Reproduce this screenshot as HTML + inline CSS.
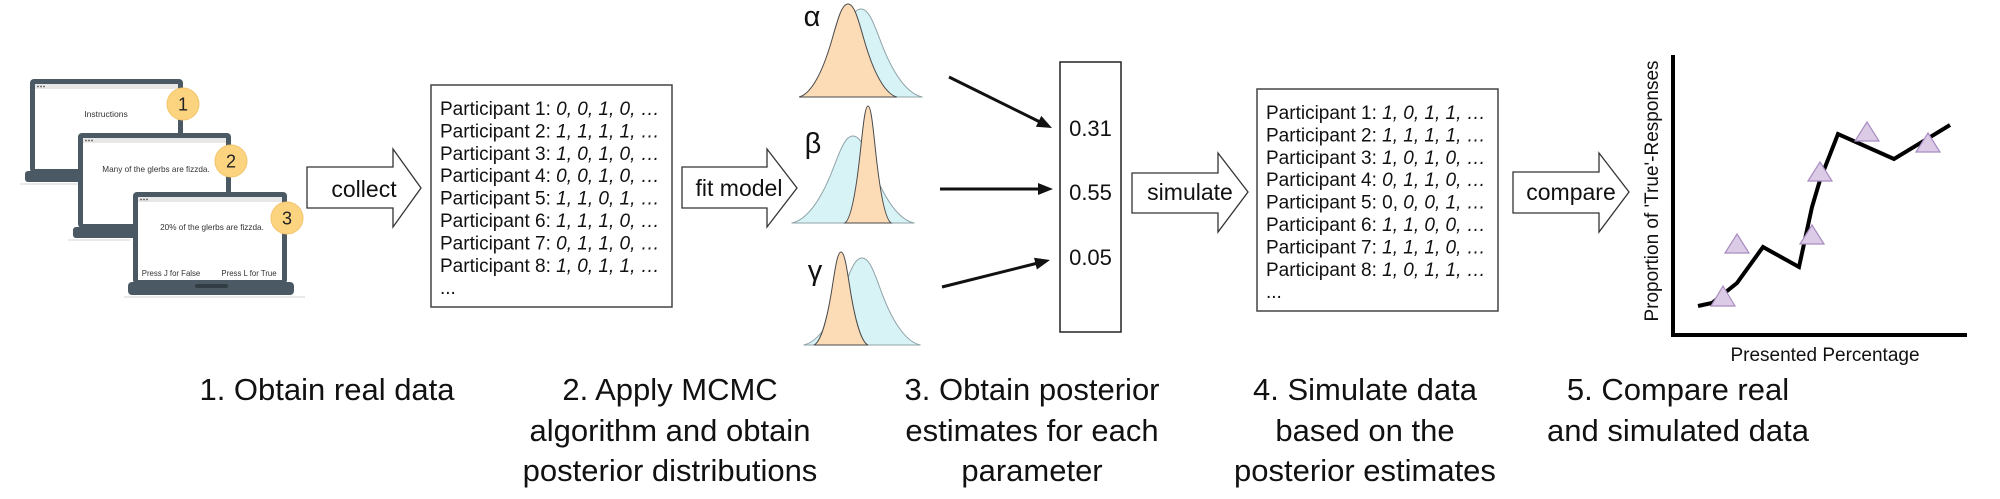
<!DOCTYPE html>
<html>
<head>
<meta charset="utf-8">
<style>
  html, body { margin: 0; padding: 0; background: #ffffff; }
  svg { display: block; }
</style>
</head>
<body>
<svg width="2000" height="499" viewBox="0 0 2000 499" xmlns="http://www.w3.org/2000/svg" font-family="'Liberation Sans', Arial, sans-serif">
  <rect x="0" y="0" width="2000" height="499" fill="#ffffff"/>

  <!-- ============ LAPTOPS ============ -->
  <!-- shadows -->
  <line x1="20" y1="184" x2="80" y2="184" stroke="#e2e2e2" stroke-width="1.5"/>
  <line x1="68" y1="240" x2="130" y2="240" stroke="#e2e2e2" stroke-width="1.5"/>
  <line x1="124" y1="297" x2="305" y2="297" stroke="#e2e2e2" stroke-width="1.5"/>

  <!-- Laptop 1 -->
  <rect x="25" y="171" width="163" height="11" rx="3" fill="#4a5963"/>
  <rect x="30" y="79" width="153" height="94" rx="4" fill="#4a5963"/>
  <rect x="35" y="84" width="143" height="85" fill="#ffffff"/>
  <rect x="35" y="84" width="143" height="5" fill="#e7e7e7"/>
  <circle cx="38" cy="86.5" r="0.9" fill="#555"/><circle cx="41" cy="86.5" r="0.9" fill="#555"/><circle cx="44" cy="86.5" r="0.9" fill="#555"/>
  <text x="106" y="117" font-size="8.5" text-anchor="middle" fill="#333">Instructions</text>

  <!-- Laptop 2 -->
  <rect x="73" y="227" width="163" height="11" rx="3" fill="#4a5963"/>
  <rect x="78" y="133" width="153" height="95" rx="4" fill="#4a5963"/>
  <rect x="83" y="138" width="143" height="86" fill="#ffffff"/>
  <rect x="83" y="138" width="143" height="5" fill="#e7e7e7"/>
  <circle cx="86" cy="140.5" r="0.9" fill="#555"/><circle cx="89" cy="140.5" r="0.9" fill="#555"/><circle cx="92" cy="140.5" r="0.9" fill="#555"/>
  <text x="156" y="172" font-size="8.2" text-anchor="middle" fill="#333">Many of the glerbs are fizzda.</text>

  <!-- Laptop 3 -->
  <rect x="128" y="282" width="166" height="13" rx="4" fill="#4a5963"/>
  <rect x="133" y="192" width="154" height="92" rx="4" fill="#4a5963"/>
  <rect x="138" y="197" width="144" height="83" fill="#ffffff"/>
  <rect x="138" y="197" width="144" height="5" fill="#e7e7e7"/>
  <circle cx="141" cy="199.5" r="0.9" fill="#555"/><circle cx="144" cy="199.5" r="0.9" fill="#555"/><circle cx="147" cy="199.5" r="0.9" fill="#555"/>
  <rect x="195" y="284" width="33" height="4" rx="2" fill="#323c43"/>
  <text x="212" y="230" font-size="8.2" text-anchor="middle" fill="#333">20% of the glerbs are fizzda.</text>
  <text x="171" y="276" font-size="7.8" text-anchor="middle" fill="#333">Press J for False</text>
  <text x="249" y="276" font-size="7.8" text-anchor="middle" fill="#333">Press L for True</text>

  <!-- numbered circles -->
  <circle cx="183" cy="104" r="16" fill="#fcd47f" stroke="#f3c46e" stroke-width="1"/>
  <text x="183" y="110.5" font-size="18" text-anchor="middle" fill="#222">1</text>
  <circle cx="231" cy="161" r="16" fill="#fcd47f" stroke="#f3c46e" stroke-width="1"/>
  <text x="231" y="167.5" font-size="18" text-anchor="middle" fill="#222">2</text>
  <circle cx="287" cy="218" r="16" fill="#fcd47f" stroke="#f3c46e" stroke-width="1"/>
  <text x="287" y="224.5" font-size="18" text-anchor="middle" fill="#222">3</text>

  <!-- ============ BLOCK ARROWS ============ -->
  <polygon points="307,167 393,167 393,149 421,188 393,227 393,208 307,208" fill="#fff" stroke="#333" stroke-width="1.3"/>
  <text x="364" y="197" font-size="23" text-anchor="middle" fill="#111">collect</text>

  <polygon points="682,167 767,167 767,149 797,188 767,227 767,208 682,208" fill="#fff" stroke="#333" stroke-width="1.3"/>
  <text x="739" y="196" font-size="23" text-anchor="middle" fill="#111">fit model</text>

  <polygon points="1132,173 1218,173 1218,153 1248,192 1218,232 1218,213 1132,213" fill="#fff" stroke="#333" stroke-width="1.3"/>
  <text x="1190" y="200" font-size="23" text-anchor="middle" fill="#111">simulate</text>

  <polygon points="1513,172 1599,172 1599,153 1629,192 1599,232 1599,213 1513,213" fill="#fff" stroke="#333" stroke-width="1.3"/>
  <text x="1571" y="200" font-size="23" text-anchor="middle" fill="#111">compare</text>

  <!-- ============ DATA BOX 1 ============ -->
  <rect x="431" y="85" width="241" height="222" fill="#fff" stroke="#444" stroke-width="1.5"/>
  <g font-size="19" fill="#111">
    <text x="440" y="115">Participant 1: <tspan font-style="italic">0, 0, 1, 0, …</tspan></text>
    <text x="440" y="137.4">Participant 2: <tspan font-style="italic">1, 1, 1, 1, …</tspan></text>
    <text x="440" y="159.8">Participant 3: <tspan font-style="italic">1, 0, 1, 0, …</tspan></text>
    <text x="440" y="182.2">Participant 4: <tspan font-style="italic">0, 0, 1, 0, …</tspan></text>
    <text x="440" y="204.6">Participant 5: <tspan font-style="italic">1, 1, 0, 1, …</tspan></text>
    <text x="440" y="227">Participant 6: <tspan font-style="italic">1, 1, 1, 0, …</tspan></text>
    <text x="440" y="249.4">Participant 7: <tspan font-style="italic">0, 1, 1, 0, …</tspan></text>
    <text x="440" y="271.8">Participant 8: <tspan font-style="italic">1, 0, 1, 1, …</tspan></text>
    <text x="440" y="294.2">...</text>
  </g>

  <!-- ============ DISTRIBUTIONS ============ -->
  <g stroke-width="1">
    <!-- alpha -->
    <path d="M799.5,97 C813.8,94.4 828.2,75.6 840.5,43.6 C847.7,24.9 852.8,9 861,9 C869.2,9 874.3,24.9 881.5,43.6 C893.8,75.6 908.2,94.4 922.5,97 Z" fill="#d8f3f6" stroke="#8fa3a8"/>
    <path d="M799.1,97 C810.5,94.2 821.9,74.4 831.7,40.5 C837.4,20.8 841.5,4 848,4 C854.5,4 858.6,20.8 864.3,40.5 C874.1,74.4 885.5,94.2 896.9,97 Z" fill="#fcdcb7" stroke="#4a4a4a"/>
    <!-- beta -->
    <path d="M791.5,223 C805.8,220.4 820.2,201.9 832.5,170.2 C839.7,151.7 844.8,136 853,136 C861.2,136 866.3,151.7 873.5,170.2 C885.8,201.9 900.2,220.4 914.5,223 Z" fill="#d8f3f6" stroke="#8fa3a8"/>
    <path d="M844.9,223 C850.3,219.5 855.7,194.6 860.3,152 C863,127.2 864.9,106 868,106 C871.1,106 873,127.2 875.7,152 C880.3,194.6 885.7,219.5 891.1,223 Z" fill="#fcdcb7" stroke="#4a4a4a"/>
    <!-- gamma -->
    <path d="M803.5,345 C817.1,342.4 830.8,323.9 842.5,292.2 C849.3,273.7 854.2,258 862,258 C869.8,258 874.7,273.7 881.5,292.2 C893.2,323.9 906.9,342.4 920.5,345 Z" fill="#d8f3f6" stroke="#8fa3a8"/>
    <path d="M814,345 C820.3,342.2 826.6,322.4 832,288.5 C835.1,268.8 837.4,252 841,252 C844.6,252 846.9,268.8 850,288.5 C855.4,322.4 861.7,342.2 868,345 Z" fill="#fcdcb7" stroke="#4a4a4a"/>
  </g>
  <text x="812" y="26" font-size="29" text-anchor="middle" fill="#111">α</text>
  <text x="813" y="153" font-size="29" text-anchor="middle" fill="#111">β</text>
  <text x="815" y="280" font-size="29" text-anchor="middle" fill="#111">γ</text>

  <!-- ============ LINE ARROWS ============ -->
  <line x1="949" y1="77" x2="1039" y2="121.5" stroke="#111" stroke-width="3"/>
  <polygon points="1052,128 1035.9,126.7 1041.3,115.9" fill="#111"/>
  <line x1="940" y1="189" x2="1040" y2="189" stroke="#111" stroke-width="3"/>
  <polygon points="1053,189 1038,183 1038,195" fill="#111"/>
  <line x1="942" y1="287" x2="1036" y2="263.5" stroke="#111" stroke-width="3"/>
  <polygon points="1050,260 1036.9,269.5 1034,257.8" fill="#111"/>

  <!-- ============ ESTIMATES BOX ============ -->
  <rect x="1060" y="62" width="61" height="270" fill="#fff" stroke="#222" stroke-width="1.5"/>
  <g font-size="22" fill="#111" text-anchor="middle">
    <text x="1090.5" y="136">0.31</text>
    <text x="1090.5" y="200">0.55</text>
    <text x="1090.5" y="265">0.05</text>
  </g>

  <!-- ============ DATA BOX 2 ============ -->
  <rect x="1257" y="89" width="241" height="222" fill="#fff" stroke="#444" stroke-width="1.5"/>
  <g font-size="19" fill="#111">
    <text x="1266" y="119">Participant 1: <tspan font-style="italic">1, 0, 1, 1, …</tspan></text>
    <text x="1266" y="141.4">Participant 2: <tspan font-style="italic">1, 1, 1, 1, …</tspan></text>
    <text x="1266" y="163.8">Participant 3: <tspan font-style="italic">1, 0, 1, 0, …</tspan></text>
    <text x="1266" y="186.2">Participant 4: <tspan font-style="italic">0, 1, 1, 0, …</tspan></text>
    <text x="1266" y="208.6">Participant 5: 0, <tspan font-style="italic">0, 0, 1, …</tspan></text>
    <text x="1266" y="231">Participant 6: <tspan font-style="italic">1, 1, 0, 0, …</tspan></text>
    <text x="1266" y="253.4">Participant 7: <tspan font-style="italic">1, 1, 1, 0, …</tspan></text>
    <text x="1266" y="275.8">Participant 8: <tspan font-style="italic">1, 0, 1, 1, …</tspan></text>
    <text x="1266" y="298.2">...</text>
  </g>

  <!-- ============ CHART ============ -->
  <line x1="1673" y1="55" x2="1673" y2="337" stroke="#000" stroke-width="4"/>
  <line x1="1671" y1="335" x2="1967" y2="335" stroke="#000" stroke-width="4"/>
  <polyline points="1698,306 1712,303 1737,283 1763,247 1799,267 1812,207 1820,180 1838,134 1894,159 1950,125" fill="none" stroke="#000" stroke-width="4" stroke-linejoin="miter"/>
  <g fill="#dccbe6" stroke="#a88cc0" stroke-width="1.2">
    <polygon points="1723,286 1735,306 1711,306"/>
    <polygon points="1737,234 1749,253 1725,253"/>
    <polygon points="1812,225 1824,244 1800,244"/>
    <polygon points="1820,162 1832,181 1808,181"/>
    <polygon points="1867,122 1879,141 1855,141"/>
    <polygon points="1928,133 1940,152 1916,152"/>
  </g>
  <text transform="translate(1658,191) rotate(-90)" font-size="19" text-anchor="middle" fill="#111">Proportion of 'True'-Responses</text>
  <text x="1825" y="361" font-size="19" text-anchor="middle" fill="#111">Presented Percentage</text>

  <!-- ============ STEP LABELS ============ -->
  <g font-size="31" fill="#111" text-anchor="middle">
    <text x="327" y="400">1. Obtain real data</text>

    <text x="670" y="400">2. Apply MCMC</text>
    <text x="670" y="441">algorithm and obtain</text>
    <text x="670" y="481">posterior distributions</text>

    <text x="1032" y="400">3. Obtain posterior</text>
    <text x="1032" y="441">estimates for each</text>
    <text x="1032" y="481">parameter</text>

    <text x="1365" y="400">4. Simulate data</text>
    <text x="1365" y="441">based on the</text>
    <text x="1365" y="481">posterior estimates</text>

    <text x="1678" y="400">5. Compare real</text>
    <text x="1678" y="441">and simulated data</text>
  </g>
</svg>
</body>
</html>
